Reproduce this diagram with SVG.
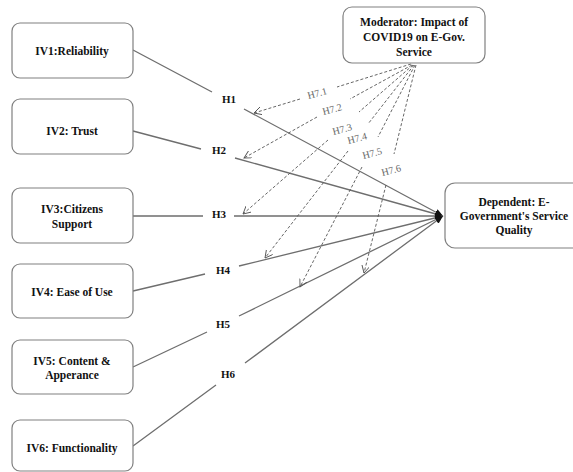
<svg xmlns="http://www.w3.org/2000/svg" width="573" height="472" viewBox="0 0 573 472" font-family="Liberation Serif">
<style>
.box{fill:#fff;stroke:#808080;stroke-width:1.2}
.t{font-family:'Liberation Serif',serif;font-weight:bold;font-size:11.5px;fill:#111;text-anchor:middle}
.h{font-family:'Liberation Serif',serif;font-weight:bold;font-size:11px;fill:#111;text-anchor:middle}
.m{font-family:'Liberation Serif',serif;font-size:10px;fill:#666;text-anchor:middle}
.sl{fill:none;stroke:#6e6e6e;stroke-width:1.3}
.dl{fill:none;stroke:#555;stroke-width:0.9;stroke-dasharray:3 2}
</style>
<defs>
<marker id="solid" markerUnits="userSpaceOnUse" markerWidth="9" markerHeight="8" refX="8" refY="3.5" orient="auto">
<path d="M0,0 L8,3.5 L0,7 Z" fill="#111"/>
</marker>
<marker id="open" markerUnits="userSpaceOnUse" markerWidth="9" markerHeight="9" refX="7.5" refY="4" orient="auto">
<path d="M0,0 L7.5,4 L0,8" fill="none" stroke="#555" stroke-width="0.9"/>
</marker>
</defs>
<rect width="573" height="472" fill="#fff"/>
<g id="connectors">
<path class="sl" marker-end="url(#solid)" d="M133,50 L212,92 M244,109 L443,216"/>
<path class="sl" marker-end="url(#solid)" d="M133,131 L201,149 M235,158 L443,216"/>
<path class="sl" marker-end="url(#solid)" d="M133,216 L203,216 M234,216 L443,216"/>
<path class="sl" marker-end="url(#solid)" d="M133,291 L205,274 M239,266 L443,216"/>
<path class="sl" marker-end="url(#solid)" d="M133,367 L207,332 M239,316 L443,216"/>
<path class="sl" marker-end="url(#solid)" d="M133,446 L216,385 M245,363 L443,216"/>
<text class="h" x="229" y="103">H1</text>
<text class="h" x="219" y="154">H2</text>
<text class="h" x="219" y="218">H3</text>
<text class="h" x="223" y="274">H4</text>
<text class="h" x="223" y="328">H5</text>
<text class="h" x="228" y="378">H6</text>
<path class="dl" marker-end="url(#open)" d="M411,64 L337,87 M300,99 L254,113"/>
<path class="dl" marker-end="url(#open)" d="M412,65 L350,99 M317,117 L244,158"/>
<path class="dl" marker-end="url(#open)" d="M413,65 L359,112 M328,140 L243,214"/>
<path class="dl" marker-end="url(#open)" d="M414,65 L368,124 M348,151 L265,258"/>
<path class="dl" marker-end="url(#open)" d="M415,65 L378,137 M362,167 L300,287"/>
<path class="dl" marker-end="url(#open)" d="M416,65 L394,154 M386,185 L364,273"/>
<text class="m" transform="translate(318,96.5) rotate(-15)">H7.1</text>
<text class="m" transform="translate(333,112.5) rotate(-15)">H7.2</text>
<text class="m" transform="translate(343,132.5) rotate(-15)">H7.3</text>
<text class="m" transform="translate(358,141.5) rotate(-15)">H7.4</text>
<text class="m" transform="translate(373,156.5) rotate(-15)">H7.5</text>
<text class="m" transform="translate(392,173.5) rotate(-15)">H7.6</text>
</g>
<g id="iv1"><rect class="box" x="12" y="23" width="121" height="55" rx="8"/><text class="t" x="72" y="55">IV1:Reliability</text></g>
<g id="iv2"><rect class="box" x="12" y="99" width="121" height="55" rx="8"/><text class="t" x="72" y="135">IV2: Trust</text></g>
<g id="iv3"><rect class="box" x="12" y="188" width="121" height="55" rx="8"/><text class="t" x="72" y="213">IV3:Citizens</text><text class="t" x="72" y="228">Support</text></g>
<g id="iv4"><rect class="box" x="12" y="264" width="121" height="54" rx="8"/><text class="t" x="72" y="296">IV4: Ease of Use</text></g>
<g id="iv5"><rect class="box" x="12" y="340" width="121" height="54" rx="8"/><text class="t" x="72" y="365">IV5: Content &amp;</text><text class="t" x="72" y="379">Apperance</text></g>
<g id="iv6"><rect class="box" x="12" y="420" width="121" height="51" rx="8"/><text class="t" x="72" y="452">IV6: Functionality</text></g>
<g id="moderator"><rect class="box" x="343" y="7" width="142" height="56" rx="9"/><text class="t" x="414" y="26">Moderator: Impact of</text><text class="t" x="414" y="41">COVID19 on E-Gov.</text><text class="t" x="414" y="56">Service</text></g>
<g id="dependent"><rect class="box" x="445" y="183" width="140" height="65" rx="10"/><text class="t" x="514" y="206">Dependent: E-</text><text class="t" x="514" y="220">Government's Service</text><text class="t" x="514" y="234">Quality</text></g>
</svg>
